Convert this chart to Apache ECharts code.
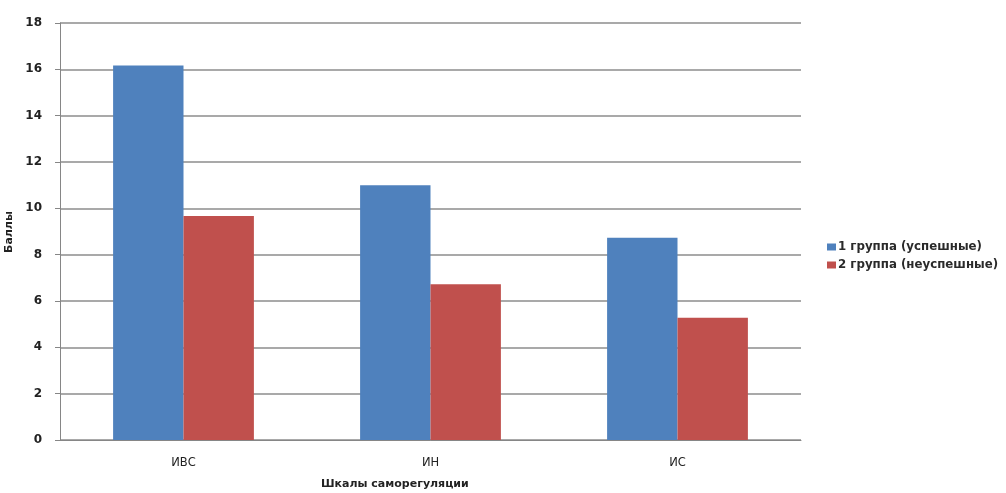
<!DOCTYPE html>
<html>
<head>
<meta charset="utf-8">
<script src="https://cdn.jsdelivr.net/npm/echarts@6/dist/echarts.min.js"></script>
<style>html,body{margin:0;padding:0;background:#fff;}#c{width:1006px;height:493px;}</style>
</head>
<body>
<div id="c"></div>
<script>
const categories = ['ИВС', 'ИН', 'ИС'];
const seriesNames = ['1 группа (успешные)', '2 группа (неуспешные)'];
const group1 = [16.17, 11.0, 8.73];
const group2 = [9.67, 6.72, 5.28];
const xTitle = 'Шкалы саморегуляции';
const yTitle = 'Баллы';

const chart = echarts.init(document.getElementById('c'));
const font = '"DejaVu Sans", Verdana, sans-serif';
chart.setOption({
  animation: false,
  backgroundColor: '#fff',
  grid: { left: 60, right: 205, top: 23, bottom: 53, containLabel: false },
  legend: {
    orient: 'vertical', left: 822, top: 235,
    itemWidth: 9, itemHeight: 7, itemGap: 4,
    icon: 'rect',
    textStyle: { fontFamily: font, fontSize: 11.8, fontWeight: 'bold', lineHeight: 14, color: '#2a2a2a', padding: [0,0,0,-3] },
    data: seriesNames
  },
  xAxis: {
    type: 'category', data: categories,
    axisLine: { lineStyle: { color: '#868686', width: 1 } },
    axisTick: { show: false },
    axisLabel: { margin: 17, fontFamily: font, fontSize: 11.5, color: '#222' }
  },
  yAxis: {
    type: 'value', min: 0, max: 18, interval: 2,
    axisLine: { show: true, lineStyle: { color: '#868686' } },
    axisTick: { show: true, length: 5, lineStyle: { color: '#868686' } },
    splitLine: { lineStyle: { color: '#8c8c8c', width: 1.5 } },
    axisLabel: { margin: 18, fontFamily: font, fontSize: 12, fontWeight: 'bold', color: '#222' }
  },
  graphic: [
    { type: 'text', left: 321, top: 479, style: { text: xTitle, font: 'bold 11px ' + font, fill: '#222' } },
    { type: 'text', x: 4, y: 253, rotation: Math.PI / 2, style: { text: yTitle, font: 'bold 11px ' + font, fill: '#222', textAlign: 'left', textVerticalAlign: 'top' } }
  ],
  series: [
    { name: seriesNames[0], type: 'bar', data: group1, barGap: '0%', barCategoryGap: '43%', itemStyle: { color: '#4F81BD' } },
    { name: seriesNames[1], type: 'bar', data: group2, barGap: '0%', barCategoryGap: '43%', itemStyle: { color: '#C0504D' } }
  ]
});
</script>
</body>
</html>
